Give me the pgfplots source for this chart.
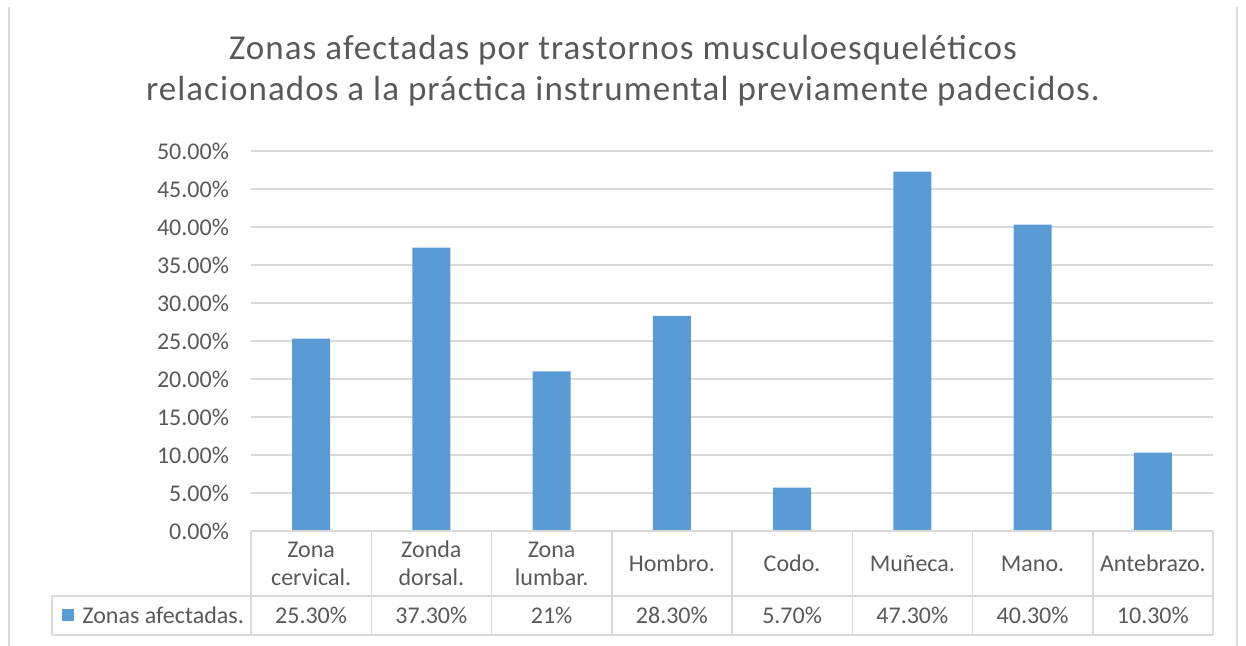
\documentclass[border=0pt]{standalone}
\usepackage{pgfplots}
\pgfplotsset{compat=1.18}
\usepackage{fontspec}
\setmainfont{Carlito}
\newfontfamily\titlefont[LetterSpace=3]{Carlito}
\definecolor{barblue}{HTML}{5B9BD5}
\definecolor{txt}{HTML}{595959}
\definecolor{gridc}{HTML}{D9D9D9}
\begin{document}
\begin{tikzpicture}[x=1pt,y=1pt]
\useasboundingbox (0,0) rectangle (623,323);
% chart frame
\draw[gridc, line width=0.75pt] (4.4,0) -- (4.4,319.5);
\draw[gridc, line width=0.75pt] (618.5,0) -- (618.5,319.5);
% title
\node[anchor=base, text=txt, font=\titlefont\fontsize{17.5}{21}\selectfont, inner sep=0] at (311.5,293) {Zonas afectadas por trastornos musculoesqueléticos};
\node[anchor=base, text=txt, font=\titlefont\fontsize{17.5}{21}\selectfont, inner sep=0] at (311.5,272.5) {relacionados a la práctica instrumental previamente padecidos.};
\begin{axis}[
  at={(125.5pt,57.5pt)}, anchor=south west,
  width=481pt, height=190pt, scale only axis,
  xmin=-0.5, xmax=7.5, ymin=0, ymax=50,
  axis line style={draw=none},
  ytick={0,5,...,50},
  major tick length=0pt,
  ymajorgrids, grid style={gridc, line width=0.75pt},
  /pgf/number format/assume math mode=true,
  yticklabel={\pgfmathprintnumber[fixed,fixed zerofill,precision=2]{\tick}\%},
  yticklabel style={font=\fontsize{12}{14}\selectfont, text=txt, anchor=east, xshift=-7.5pt},
  xtick={0,...,7},
  xticklabels={{Zona\\cervical.},{Zonda\\dorsal.},{Zona\\lumbar.},{Hombro.},{Codo.},{Muñeca.},{Mano.},{Antebrazo.}},
  xticklabel style={align=center, anchor=center, yshift=-16.25pt, font=\fontsize{12}{14}\selectfont, text=txt},
  clip=false,
]
\addplot[ybar, bar width=19pt, fill=barblue, draw=none] coordinates {(0,25.3) (1,37.3) (2,21) (3,28.3) (4,5.7) (5,47.3) (6,40.3) (7,10.3)};
\addplot[draw=none, mark=none, nodes near coords, point meta=explicit symbolic,
  nodes near coords style={anchor=center, font=\fontsize{12}{14}\selectfont, text=txt}]
  coordinates {(0,-11.12)[25.30\%] (1,-11.12)[37.30\%] (2,-11.12)[21\%] (3,-11.12)[28.30\%] (4,-11.12)[5.70\%] (5,-11.12)[47.30\%] (6,-11.12)[40.30\%] (7,-11.12)[10.30\%]};
\end{axis}
% data table grid
\begin{scope}[gridc, line width=0.75pt]
\draw (125.5,57.5) -- (606.5,57.5);
\draw (26,25) -- (606.5,25);
\draw (26,5.5) -- (606.5,5.5);
\draw (26,5.5) -- (26,25);
\foreach \k in {0,...,8} { \draw ({125.5+\k*60.125},5.5) -- ({125.5+\k*60.125},57.5); }
\end{scope}
\fill[barblue] (31,12.25) rectangle (37,18.25);
\node[anchor=west, inner sep=0, text=txt, font=\fontsize{12}{14}\selectfont] at (41,15.25) {Zonas afectadas.};
\end{tikzpicture}
\end{document}
